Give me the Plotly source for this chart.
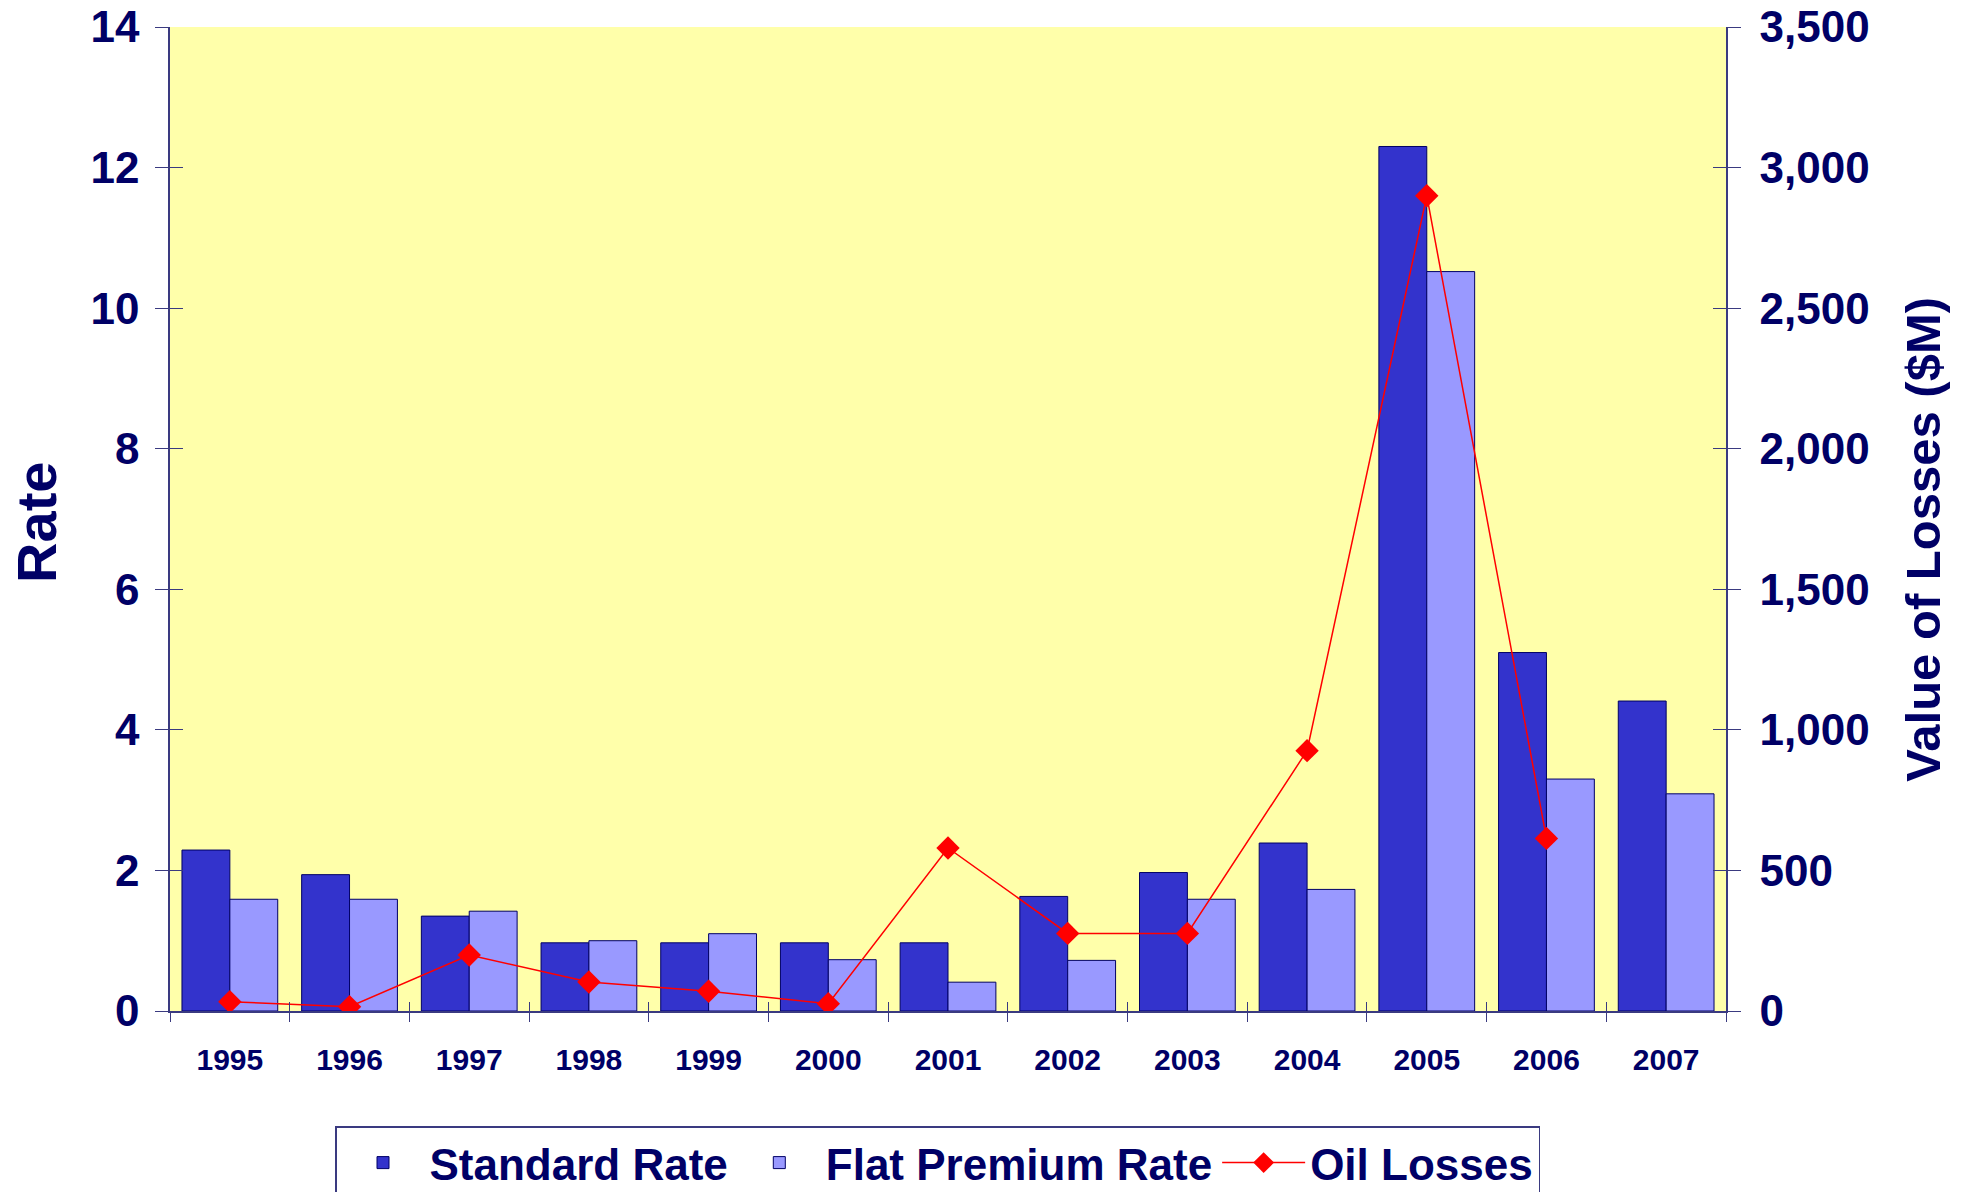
import plotly.graph_objects as go

years = [1995, 1996, 1997, 1998, 1999, 2000, 2001, 2002, 2003, 2004, 2005, 2006, 2007]
standard_rate = [2.29, 1.94, 1.35, 0.97, 0.97, 0.97, 0.97, 1.63, 1.97, 2.39, 12.30, 5.10, 4.41]
flat_premium_rate = [1.59, 1.59, 1.42, 1.00, 1.10, 0.73, 0.41, 0.72, 1.59, 1.73, 10.52, 3.30, 3.09]
oil_losses = [33, 15, 199, 103, 70, 26, 580, 276, 276, 926, 2900, 614, None]

left_ticks = [0, 2, 4, 6, 8, 10, 12, 14]
right_ticks = [0, 500, 1000, 1500, 2000, 2500, 3000, 3500]

NAVY = "#000066"
AXIS = "#3a3a80"
FONT = "Liberation Sans, Arial, sans-serif"

boundaries = [y - 0.5 for y in years] + [years[-1] + 0.5]
xrange_ = [years[0] - 0.5, years[-1] + 0.5]

fig = go.Figure()
fig.add_trace(go.Bar(x=years, y=standard_rate, name="Standard Rate",
                     marker=dict(color="#3333CC", line=dict(color=NAVY, width=1))))
fig.add_trace(go.Bar(x=years, y=flat_premium_rate, name="Flat Premium Rate",
                     marker=dict(color="#9999FF", line=dict(color=NAVY, width=1))))
fig.add_trace(go.Scatter(x=years, y=oil_losses, name="Oil Losses", yaxis="y2",
                         mode="lines+markers",
                         line=dict(color="#FF0000", width=1.5),
                         marker=dict(symbol="diamond", size=18, color="#FF0000",
                                     line=dict(width=0))))
# helper traces so the overlay tick axes are drawn
fig.add_trace(go.Scatter(x=[], y=[], xaxis="x2", yaxis="y3", showlegend=False, hoverinfo="skip"))
fig.add_trace(go.Scatter(x=[], y=[], xaxis="x3", yaxis="y4", showlegend=False, hoverinfo="skip"))

tickfont_big = dict(family=FONT, size=44, color=NAVY, weight="bold")

fig.update_layout(
    width=1962, height=1192,
    margin=dict(l=170, r=236, t=27, b=181),
    paper_bgcolor="white",
    plot_bgcolor="#FFFFAA",
    barmode="group", bargap=0.2, bargroupgap=0,
    showlegend=True,
    xaxis=dict(range=xrange_, tickvals=years, ticktext=[str(y) for y in years],
               ticks="", showgrid=False, zeroline=False, automargin=False,
               showline=True, linecolor=AXIS, linewidth=1.5,
               tickfont=dict(family=FONT, size=30, color=NAVY, weight="bold"),
               ticklabelstandoff=21),
    xaxis2=dict(overlaying="x", anchor="y3", range=xrange_, tickvals=boundaries,
                ticks="outside", ticklen=10, tickcolor=AXIS, tickwidth=1.2, automargin=False,
                showticklabels=False, showgrid=False, zeroline=False, showline=False),
    xaxis3=dict(overlaying="x", anchor="y4", range=xrange_, tickvals=boundaries,
                ticks="inside", ticklen=9, tickcolor=AXIS, tickwidth=1.2, automargin=False,
                showticklabels=False, showgrid=False, zeroline=False, showline=False),
    yaxis=dict(range=[0, 14], tickvals=left_ticks, ticks="outside", ticklen=13,
               tickcolor=AXIS, tickwidth=1.2, showgrid=False, zeroline=False, automargin=False,
               showline=True, linecolor=AXIS, linewidth=1.5,
               tickfont=tickfont_big, ticklabelstandoff=7),
    yaxis2=dict(range=[0, 3500], tickvals=right_ticks, tickformat=",", overlaying="y",
                side="right", anchor="x", ticks="outside", ticklen=13, automargin=False,
                tickcolor=AXIS, tickwidth=1.2, showgrid=False, zeroline=False,
                showline=True, linecolor=AXIS, linewidth=1.5,
                tickfont=tickfont_big, ticklabelstandoff=10),
    yaxis3=dict(overlaying="y", side="left", anchor="x2", range=[0, 14], tickvals=left_ticks,
                ticks="inside", ticklen=13, tickcolor=AXIS, tickwidth=1.2, automargin=False,
                showticklabels=False, showgrid=False, zeroline=False, showline=False),
    yaxis4=dict(overlaying="y", side="right", anchor="x3", range=[0, 14], tickvals=left_ticks,
                ticks="inside", ticklen=13, tickcolor=AXIS, tickwidth=1.2, automargin=False,
                showticklabels=False, showgrid=False, zeroline=False, showline=False),
    legend=dict(orientation="h", xref="container", x=335 / 1962, xanchor="left",
                yref="container", y=1 - 1126 / 1192, yanchor="top",
                bgcolor="white", bordercolor=AXIS, borderwidth=1.5,
                font=dict(family=FONT, size=44, color=NAVY, weight="bold"),
                itemwidth=83, traceorder="normal"),
    annotations=[
        dict(text="Rate", xref="paper", yref="paper", x=-0.0855, y=0.497,
             textangle=-90, showarrow=False, xanchor="center", yanchor="middle",
             font=dict(family=FONT, size=56, color=NAVY, weight="bold")),
        dict(text="Value of Losses ($M)", xref="paper", yref="paper", x=1.1266, y=0.48,
             textangle=-90, showarrow=False, xanchor="center", yanchor="middle",
             font=dict(family=FONT, size=49, color=NAVY, weight="bold")),
    ],
)

fig.write_html("out.html")
